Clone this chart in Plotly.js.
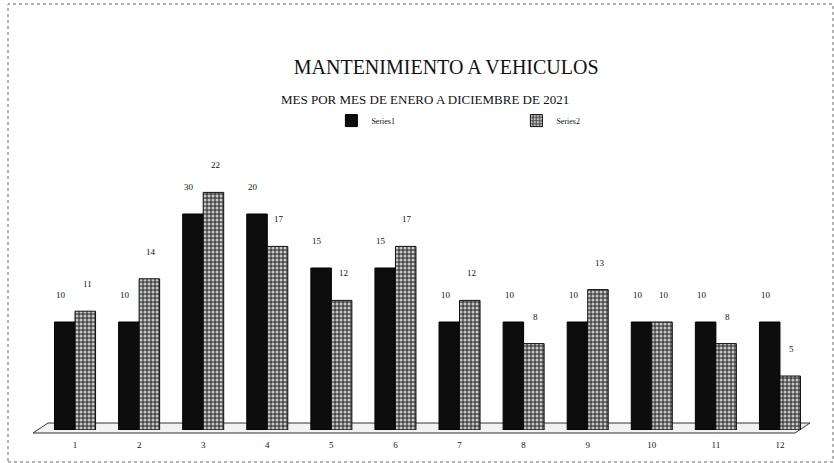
<!DOCTYPE html>
<html><head><meta charset="utf-8">
<script src="https://cdn.plot.ly/plotly-3.0.1.min.js"></script>
<style>html,body{margin:0;padding:0;background:#fff}#c{width:834px;height:463px}</style>
</head><body><div id="c"></div>
<script>
const months = ['1','2','3','4','5','6','7','8','9','10','11','12'];
const series1 = [10,10,20,20,15,15,10,10,10,10,10,10];
const series2 = [11,14,22,17,12,17,12,8,13,10,8,5];
const series1Labels = ['10','10','30','20','15','15','10','10','10','10','10','10'];
const series2Labels = ['11','14','22','17','12','17','12','8','13','10','8','5'];

const serif = 'Liberation Serif, DejaVu Serif, serif';
const traces = [
  {type:'bar', name:'Series1', x:months, y:series1,
   marker:{color:'#0d0d0d', line:{color:'#000', width:1}}},
  {type:'bar', name:'Series2', x:months, y:series2,
   marker:{color:'#555', line:{color:'#111', width:1},
     pattern:{shape:'.', fgcolor:'#c8c8c8', bgcolor:'#4a4a4a', size:4, solidity:0.45}}}
];
const ann = [];
months.forEach((m,i)=>{
  ann.push({x:m, y:series1[i], text:series1Labels[i], showarrow:false, xshift:-14, yshift:27,
    font:{family:serif, size:9, color:'#111'}});
  ann.push({x:m, y:series2[i], text:series2Labels[i], showarrow:false, xshift:12, yshift:27,
    font:{family:serif, size:9, color:'#111'}});
});
ann.push({xref:'paper', yref:'paper', x:0.497, y:1.05, text:'MES POR MES DE ENERO A DICIEMBRE DE 2021',
  showarrow:false, font:{family:serif, size:13, color:'#111'}});
const px=(p)=>((p-43)/769).toFixed(4), py=(p)=>((430-p)/324).toFixed(4);
const layout = {
  width:834, height:463,
  margin:{l:43, r:22, t:106, b:33},
  paper_bgcolor:'#fff', plot_bgcolor:'#fff',
  title:{text:'MANTENIMIENTO A VEHICULOS', x:0.535, xanchor:'center', y:0.87, yref:'container',
    font:{family:serif, size:20, color:'#111'}},
  barmode:'group', bargap:0.36, bargroupgap:0,
  xaxis:{showgrid:false, zeroline:false, showline:false, ticks:'', tickmode:'array', tickvals:months, ticktext:months,
    tickfont:{family:serif, size:9, color:'#111'}, ticklabelstandoff:8},
  yaxis:{range:[0,30], visible:false},
  showlegend:true,
  legend:{orientation:'h', x:0.375, y:0.955, xanchor:'left', yanchor:'middle', entrywidth:140,
    font:{family:serif, size:8, color:'#111'}, bgcolor:'rgba(0,0,0,0)', itemwidth:20, tracegroupgap:0},
  annotations:ann,
  shapes:[
    {type:'path', xref:'paper', yref:'paper', layer:'below',
     path:`M ${px(33)} ${py(433)} L ${px(48)} ${py(423)} L ${px(810)} ${py(423)} L ${px(795)} ${py(433)} Z`,
     line:{color:'#333', width:1}, fillcolor:'#f2f2f2'},
    {type:'rect', xref:'paper', yref:'paper', x0:px(8), x1:px(833), y0:py(462), y1:py(4),
     line:{color:'#666', width:1, dash:'dot'}}
  ]
};
Plotly.newPlot('c', traces, layout, {displayModeBar:false});
</script></body></html>
